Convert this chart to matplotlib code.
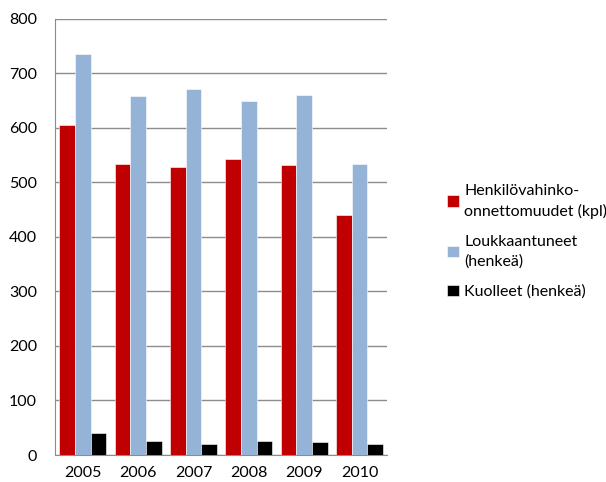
import numpy as np
import matplotlib.pyplot as plt

plt.rcParams['font.family'] = ['Lato', 'DejaVu Sans']

years = ["2005", "2006", "2007", "2008", "2009", "2010"]
onnettomuudet = [605, 534, 528, 542, 531, 440]
loukkaantuneet = [736, 659, 671, 650, 660, 534]
kuolleet = [40, 25, 21, 25, 23, 21]

labels = ["Henkilövahinko-\nonnettomuudet (kpl)",
          "Loukkaantuneet\n(henkeä)",
          "Kuolleet (henkeä)"]
colors = ["#C00000", "#95B3D7", "#000000"]

fig = plt.figure(figsize=(6.06, 4.82), dpi=100)
ax = fig.add_axes([0.091, 0.056, 0.548, 0.905])

x = np.arange(len(years))
w = 0.284
for i, vals in enumerate([onnettomuudet, loukkaantuneet, kuolleet]):
    ax.bar(x + (i - 1) * w, vals, w, color=colors[i], label=labels[i],
           edgecolor="white", linewidth=0.4, zorder=3)

ax.set_xlim(-0.5, 5.5)
ax.set_ylim(0, 800)
ax.set_yticks(range(0, 801, 100))
ax.set_xticks(x)
ax.set_xticklabels(years)
ax.grid(axis="y", color="#8c8c8c", linewidth=1, zorder=0)
for s in ["top", "right"]:
    ax.spines[s].set_visible(False)
for s in ["left", "bottom"]:
    ax.spines[s].set_color("#8c8c8c")
ax.tick_params(axis="both", length=0, labelsize=11.5, colors="#000000")
ax.tick_params(axis="y", pad=13)
ax.tick_params(axis="x", pad=8)

leg = ax.legend(loc="center left", bbox_to_anchor=(1.16, 0.49), frameon=False,
                fontsize=11.5, handlelength=0.75, handleheight=0.75,
                handletextpad=0.35, labelspacing=1.0, borderaxespad=0)
plt.setp(leg.get_texts(), linespacing=1.5)

fig.savefig("out.png", dpi=100)
